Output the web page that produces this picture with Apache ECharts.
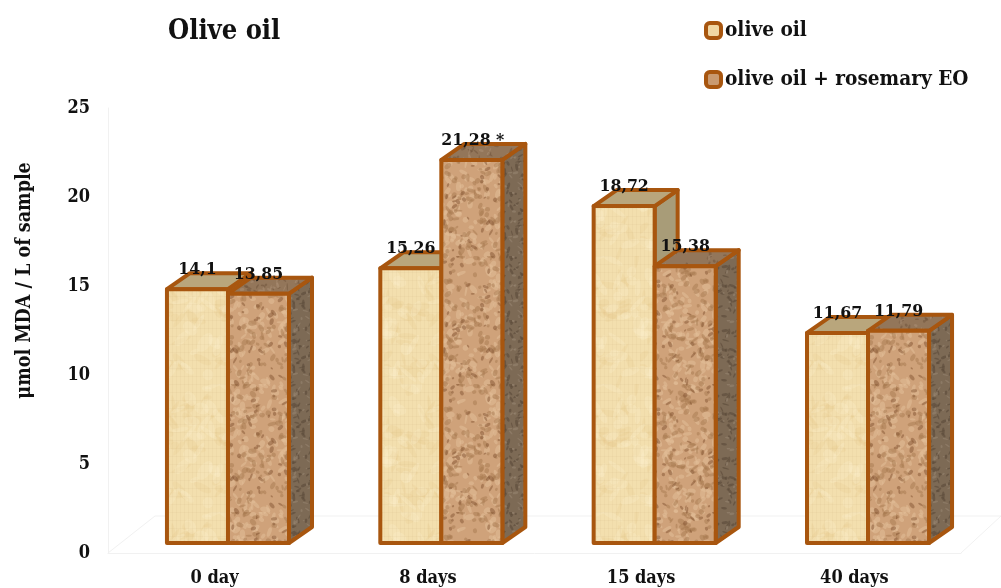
<!DOCTYPE html>
<html><head><meta charset="utf-8">
<style>html,body{margin:0;padding:0;background:#fff}#c{width:1001px;height:588px}</style>
<script src="https://cdn.jsdelivr.net/npm/echarts@6/dist/echarts.min.js"></script>
</head><body><div id="c"></div>
<script>
const categories = ['0 day', '8 days', '15 days', '40 days'];
const oliveOil = [14.1, 15.26, 18.72, 11.67];
const oliveOilRosemary = [13.85, 21.28, 15.38, 11.79];
const oliveOilLabels = ['14,1', '15,26', '18,72', '11,67'];
const rosemaryLabels = ['13,85', '21,28 *', '15,38', '11,79'];
const seriesNames = ['olive oil', 'olive oil + rosemary EO'];
const serif = '"DejaVu Serif Condensed", "DejaVu Serif", serif';

// deterministic texture generator (decoration only, not data)
function tex(size, base, spots, seed) {
  const c = document.createElement('canvas'); c.width = c.height = size;
  const g = c.getContext('2d');
  let s = seed;
  const r = () => (s = (s * 1664525 + 1013904223) % 4294967296) / 4294967296;
  g.fillStyle = base; g.fillRect(0, 0, size, size);
  spots.forEach(sp => {
    g.fillStyle = sp.color; g.globalAlpha = sp.alpha;
    for (let i = 0; i < sp.n; i++) {
      const x = r() * size, y = r() * size, w = sp.w * (0.5 + r()), h = sp.h * (0.5 + r()), a = r() * 3.14;
      for (const dx of [0, -size]) for (const dy of [0, -size]) {
        g.beginPath(); g.ellipse(x + dx, y + dy, w, h, a, 0, 6.3); g.fill();
      }
    }
  });
  g.globalAlpha = 1;
  return c;
}
function paper() {
  const c = tex(128, '#f3dfae', [
    {color: '#e6c88e', alpha: .22, n: 70, w: 8, h: 3},
    {color: '#fbeecb', alpha: .3, n: 70, w: 8, h: 4}], 7);
  const g = c.getContext('2d');
  g.globalAlpha = .05; g.strokeStyle = '#b98f55';
  for (let i = 0; i < 128; i += 4) { g.beginPath(); g.moveTo(i + .5, 0); g.lineTo(i + .5, 128); g.stroke(); }
  for (let i = 0; i < 128; i += 8) { g.beginPath(); g.moveTo(0, i + .5); g.lineTo(128, i + .5); g.stroke(); }
  return c;
}
const fills = [
  {front: {image: paper(), repeat: 'repeat'}, top: '#b9a67c', side: '#a89c78'},
  {front: {image: tex(128, '#cfa27a', [
      {color: '#e2bd98', alpha: .55, n: 240, w: 3.5, h: 2},
      {color: '#a87a50', alpha: .5, n: 220, w: 3, h: 1.8},
      {color: '#845432', alpha: .5, n: 90, w: 2.4, h: 1.4}], 11), repeat: 'repeat'},
   top: {image: tex(64, '#93765a', [
      {color: '#6d5239', alpha: .5, n: 60, w: 2.5, h: 1},
      {color: '#ad9278', alpha: .5, n: 40, w: 2, h: 1}], 5), repeat: 'repeat'},
   side: {image: tex(64, '#7d6a55', [
      {color: '#5a4938', alpha: .6, n: 90, w: 1, h: 2.5},
      {color: '#9c8a75', alpha: .5, n: 60, w: 1, h: 2}], 3), repeat: 'repeat'}}
];
const edge = '#a8560f';
const DX = 23, DY = -16;

function bar(si, labels) {
  return function (params, api) {
    const cat = api.value(0), v = api.value(1);
    const band = api.size([1, 0])[0], w = band * 0.286;
    const c = api.coord([cat, v]), b = api.coord([cat, 0]);
    const x0 = c[0] + (si === 0 ? -w : 0), x1 = x0 + w, yt = c[1], yb = b[1];
    const f = fills[si];
    const style = fill => ({fill, stroke: edge, lineWidth: 4, lineJoin: 'round'});
    const poly = (points, fill) => ({type: 'polygon', shape: {points}, style: style(fill)});
    return {type: 'group', children: [
      poly([[x1, yt], [x1 + DX, yt + DY], [x1 + DX, yb + DY], [x1, yb]], f.side),
      poly([[x0, yt], [x0 + DX, yt + DY], [x1 + DX, yt + DY], [x1, yt]], f.top),
      poly([[x0, yt], [x1, yt], [x1, yb], [x0, yb]], f.front),
      {type: 'text', z2: 100, style: {
        text: labels[cat], x: (x0 + x1) / 2 + (labels[cat].length > 5 ? 1 : 0), y: yt - 19.5,
        align: 'center', verticalAlign: 'middle',
        font: 'bold 17.5px ' + serif, fill: '#111'}}
    ]};
  };
}
const chart = echarts.init(document.getElementById('c'), null, {renderer: 'canvas'});
const axisText = {color: '#111', fontFamily: serif, fontWeight: 'bold'};
const faint = '#f1f1f1';
chart.setOption({
  animation: false,
  backgroundColor: '#fff',
  title: {text: 'Olive oil', left: 163, top: 13,
    textStyle: {fontFamily: serif, fontWeight: 'bold', fontSize: 27, color: '#111'}},
  legend: {orient: 'vertical', left: 699, top: 15, itemWidth: 15, itemHeight: 15, itemGap: 28,
    textStyle: {fontFamily: serif, fontWeight: 'bold', fontSize: 20.6, color: '#111', padding: [0, 0, 0, -1]},
    data: seriesNames.map((name, i) => ({name, icon: 'roundRect',
      itemStyle: {color: i ? '#c99a70' : '#f0d7a4', borderColor: edge, borderWidth: 4}}))},
  grid: [
    {left: 108, width: 853, top: 108, height: 445},
    {left: 121.3, width: 853.4, top: 93, height: 450}
  ],
  xAxis: [
    {type: 'category', gridIndex: 0, data: categories,
      axisLine: {lineStyle: {color: faint}}, axisTick: {show: false},
      axisLabel: {...axisText, fontSize: 18, margin: 16}},
    {type: 'category', gridIndex: 1, data: categories, show: false}
  ],
  yAxis: [
    {type: 'value', gridIndex: 0, min: 0, max: 25, interval: 5,
      name: 'μmol MDA / L of sample', nameLocation: 'middle', nameRotate: 90, nameGap: 73,
      nameTextStyle: {...axisText, fontSize: 19.5, padding: [0, 0, 0, 100]},
      axisLine: {show: true, lineStyle: {color: faint}}, axisTick: {show: false},
      splitLine: {show: false},
      axisLabel: {...axisText, fontSize: 18, margin: 18}},
    {type: 'value', gridIndex: 1, min: 0, max: 25, show: false, splitLine: {show: false}}
  ],
  graphic: [
    {type: 'polyline', silent: true, shape: {points: [[108, 553], [155, 516], [1001, 516]]},
      style: {stroke: faint, fill: null, lineWidth: 1}},
    {type: 'line', silent: true, shape: {x1: 961, y1: 553, x2: 1001, y2: 516},
      style: {stroke: faint, lineWidth: 1}}
  ],
  series: [
    {type: 'custom', name: seriesNames[0], xAxisIndex: 1, yAxisIndex: 1,
      renderItem: bar(0, oliveOilLabels), encode: {x: 0, y: 1},
      itemStyle: {color: '#f0d7a4'},
      data: oliveOil.map((v, i) => [i, v])},
    {type: 'custom', name: seriesNames[1], xAxisIndex: 1, yAxisIndex: 1,
      renderItem: bar(1, rosemaryLabels), encode: {x: 0, y: 1},
      itemStyle: {color: '#c99a70'},
      data: oliveOilRosemary.map((v, i) => [i, v])}
  ]
});
</script></body></html>
